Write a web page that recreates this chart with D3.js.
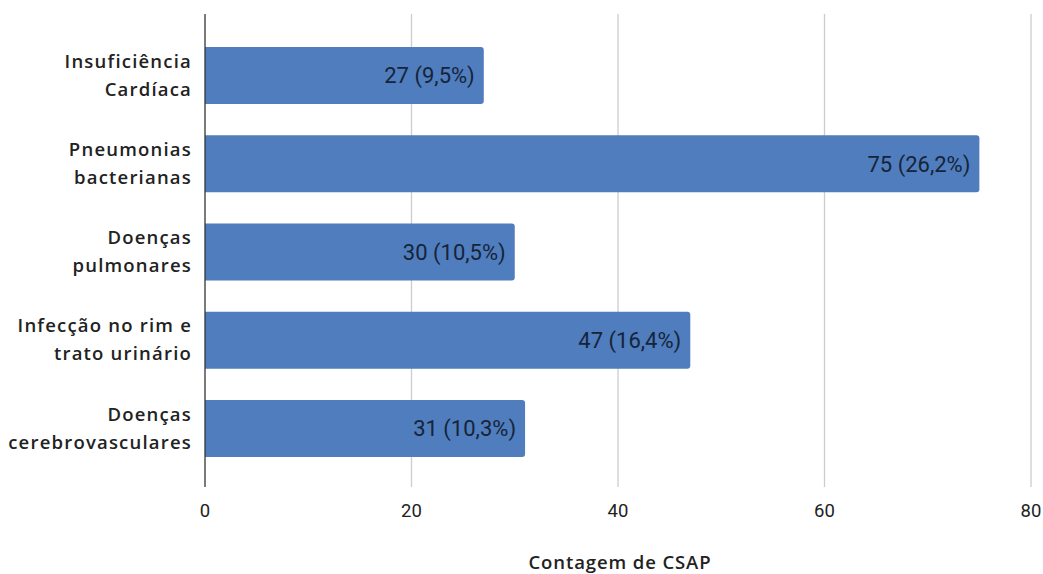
<!DOCTYPE html>
<html>
<head>
<meta charset="utf-8">
<script src="https://cdn.jsdelivr.net/npm/d3@7"></script>
<style>
  html, body { margin: 0; padding: 0; background: #fff; }
  svg { display: block; }
</style>
</head>
<body>
<svg id="chart" width="1043" height="574"></svg>
<script>
// Hospitalizations by primary-care-sensitive condition (CSAP)
const categories = [
  ["Insuficiência", "Cardíaca"],
  ["Pneumonias", "bacterianas"],
  ["Doenças", "pulmonares"],
  ["Infecção no rim e", "trato urinário"],
  ["Doenças", "cerebrovasculares"]
];
const counts = [27, 75, 30, 47, 31];
const percents = ["9,5%", "26,2%", "10,5%", "16,4%", "10,3%"];
const xTicks = [0, 20, 40, 60, 80];
const xTitle = "Contagem de CSAP";

const svg = d3.select("#chart");
const plotTop = 14, plotBottom = 487;
const x = d3.scaleLinear().domain([0, 80]).range([205, 1031]);
const y = d3.scaleBand()
  .domain(d3.range(categories.length))
  .range([31.4, 472.6])
  .paddingInner(0.354)
  .paddingOuter(0.177);

// vertical gridlines
svg.append("g").selectAll("line")
  .data(xTicks.filter(d => d !== 0))
  .join("line")
  .attr("x1", d => x(d)).attr("x2", d => x(d))
  .attr("y1", plotTop).attr("y2", plotBottom)
  .attr("stroke", "#cccccc").attr("stroke-width", 1.3);

// bars with rounded right ends
const r = 3;
svg.append("g").selectAll("path")
  .data(counts)
  .join("path")
  .attr("d", (d, i) => {
    const x0 = x(0), x1 = x(d), y0 = y(i), h = y.bandwidth();
    return `M${x0},${y0} H${x1 - r} Q${x1},${y0} ${x1},${y0 + r} V${y0 + h - r} Q${x1},${y0 + h} ${x1 - r},${y0 + h} H${x0} Z`;
  })
  .attr("fill", "#4f7dbd");

// value labels inside bar ends
svg.append("g").selectAll("text")
  .data(counts)
  .join("text")
  .attr("x", d => x(d) - 9)
  .attr("y", (d, i) => y(i) + y.bandwidth() / 2)
  .attr("dy", "0.36em")
  .attr("text-anchor", "end")
  .attr("font-family", "Roboto, sans-serif")
  .attr("font-size", 22)
  .attr("fill", "#16243a")
  .text((d, i) => `${d} (${percents[i]})`);

// category axis line
svg.append("line")
  .attr("x1", x(0)).attr("x2", x(0))
  .attr("y1", plotTop).attr("y2", plotBottom)
  .attr("stroke", "#333").attr("stroke-width", 1.3);

// category labels (two lines each)
const catG = svg.append("g");
categories.forEach((lines, i) => {
  const cy = y(i) + y.bandwidth() / 2;
  const t = catG.append("text")
    .attr("text-anchor", "end")
    .attr("font-family", "'Open Sans', sans-serif")
    .attr("font-size", 18.5)
    .attr("font-weight", 600)
    .attr("letter-spacing", "1.2px")
    .attr("fill", "#222");
  lines.forEach((ln, k) => {
    t.append("tspan")
      .attr("x", 192)
      .attr("y", cy + (k === 0 ? -14.5 : 13.5))
      .attr("dy", "0.36em")
      .text(ln);
  });
});

// x tick labels
svg.append("g").selectAll("text")
  .data(xTicks)
  .join("text")
  .attr("x", d => x(d))
  .attr("y", 510)
  .attr("dy", "0.36em")
  .attr("text-anchor", "middle")
  .attr("font-family", "Roboto, sans-serif")
  .attr("font-size", 18.5)
  .attr("fill", "#222")
  .text(d => d);

// x axis title
svg.append("text")
  .attr("x", 620)
  .attr("y", 569)
  .attr("text-anchor", "middle")
  .attr("font-family", "'Open Sans', sans-serif")
  .attr("font-size", 18.5)
  .attr("font-weight", 600)
  .attr("letter-spacing", "0.9px")
  .attr("fill", "#222")
  .text(xTitle);
</script>
</body>
</html>
